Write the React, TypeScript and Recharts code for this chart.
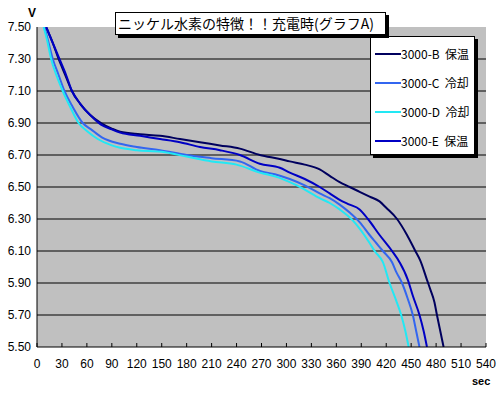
import { CartesianGrid, Legend, Line, LineChart, XAxis, YAxis } from 'recharts';

// voltage readings per series: [sec, volts]
const seriesB: [number, number][] = [
  [11, 7.5], [19, 7.4], [26, 7.3], [34, 7.2], [42, 7.1], [52, 7.02], [64, 6.95], [77, 6.9],
  [90, 6.865], [100, 6.845], [124, 6.83], [148, 6.82], [172, 6.8], [196, 6.78], [220, 6.76],
  [244, 6.74], [268, 6.7], [292, 6.675], [304, 6.66], [322, 6.64], [340, 6.61], [352, 6.57],
  [364, 6.53], [376, 6.5], [388, 6.47], [400, 6.44], [412, 6.41], [420, 6.37], [433, 6.3],
  [445, 6.2], [455, 6.1], [461, 6.04], [469, 5.92], [473, 5.86], [478, 5.78], [481, 5.7],
  [485, 5.6], [489, 5.5],
];
const seriesC: [number, number][] = [
  [9, 7.5], [14, 7.4], [19, 7.3], [26, 7.2], [33, 7.1], [43, 7.0], [55, 6.9], [65, 6.86],
  [78, 6.81], [100, 6.77], [120, 6.75], [148, 6.73], [180, 6.7], [210, 6.68], [244, 6.66],
  [268, 6.6], [286, 6.58], [304, 6.55], [322, 6.51], [340, 6.46], [352, 6.43], [364, 6.39],
  [376, 6.34], [388, 6.28], [400, 6.2], [408, 6.15], [416, 6.1], [427, 6.03], [432, 5.97],
  [439, 5.9], [446, 5.8], [452, 5.7], [456, 5.6], [460, 5.5],
];
const seriesD: [number, number][] = [
  [8, 7.5], [12, 7.42], [17, 7.3], [24, 7.19], [31, 7.1], [40, 7.0], [50, 6.9], [60, 6.85],
  [73, 6.8], [90, 6.76], [100, 6.745], [120, 6.73], [150, 6.72], [180, 6.69], [210, 6.66],
  [240, 6.64], [268, 6.59], [290, 6.56], [304, 6.53], [320, 6.49], [340, 6.43], [352, 6.4],
  [364, 6.36], [380, 6.29], [388, 6.24], [400, 6.15], [406, 6.1], [416, 6.03], [424, 5.9],
  [432, 5.79], [438, 5.7], [443, 5.6], [447, 5.5],
];
const seriesE: [number, number][] = [
  [11, 7.5], [19, 7.4], [27, 7.3], [35, 7.2], [42, 7.1], [52, 7.02], [64, 6.95], [77, 6.89],
  [90, 6.86], [100, 6.84], [124, 6.82], [148, 6.8], [172, 6.78], [196, 6.75], [220, 6.73],
  [244, 6.7], [268, 6.645], [292, 6.62], [304, 6.59], [322, 6.55], [340, 6.5], [352, 6.46],
  [364, 6.42], [376, 6.39], [388, 6.36], [398, 6.3], [412, 6.2], [427, 6.1], [436, 6.03],
  [446, 5.92], [452, 5.82], [460, 5.7], [465, 5.6], [469, 5.5],
];

const seriesNames = ['3000-B 保温', '3000-C 冷却', '3000-D 冷却', '3000-E 保温'];
const seriesColors = ['#00005e', '#3366f0', '#22e8f4', '#0000c4'];
const xTicks = [0, 30, 60, 90, 120, 150, 180, 210, 240, 270, 300, 330, 360, 390, 420, 450, 480, 510, 540];
const yTicks = [5.5, 5.7, 5.9, 6.1, 6.3, 6.5, 6.7, 6.9, 7.1, 7.3, 7.5];
const title = 'ニッケル水素の特徴！！充電時(グラフA)';

const toRows = (s: [number, number][]) => s.map(([t, v]) => ({ t, v }));
const allSeries = [seriesB, seriesC, seriesD, seriesE].map(toRows);

const font = '"Liberation Sans", Arial, sans-serif';

function XTick({ x, y, payload }: any) {
  return (
    <g>
      <line x1={x} x2={x} y1={y - 4} y2={y} stroke="#000" />
      <text x={x} y={y + 21} textAnchor="middle" fontSize={12} fontFamily={font} fill="#000">
        {payload.value}
      </text>
    </g>
  );
}

function LegendBox({ payload }: any) {
  return (
    <div
      style={{
        width: 105,
        height: 119,
        background: '#fff',
        border: '1px solid #000',
        boxShadow: '3px 3px 0 #000',
        padding: '2px 0 0 4px',
        boxSizing: 'border-box',
      }}
    >
      {(payload || []).map((p: any) => (
        <div key={p.value} style={{ display: 'flex', alignItems: 'center', height: 29 }}>
          <span style={{ display: 'inline-block', width: 26, height: 2, background: p.color }} />
          <span style={{ fontSize: 12, fontFamily: '"Noto Sans CJK JP", sans-serif', color: '#000', whiteSpace: 'pre' }}>
            {p.value.replace(' ', '  ')}
          </span>
        </div>
      ))}
    </div>
  );
}

export default function App() {
  return (
    <div style={{ position: 'absolute', left: 0, top: 0, width: 502, height: 394, background: '#fff' }}>
      <LineChart width={502} height={394} margin={{ top: 27, right: 16, bottom: 17, left: 0 }}>
        <CartesianGrid
          vertical={false}
          stroke="#000"
          fill="#c0c0c0"
          fillOpacity={1}
          horizontalValues={yTicks.slice(1, -1)}
        />
        <XAxis
          type="number"
          dataKey="t"
          domain={[0, 540]}
          ticks={xTicks}
          interval={0}
          height={30}
          allowDataOverflow
          axisLine={{ stroke: '#000' }}
          tickLine={false}
          tickSize={0}
          tickMargin={0}
          tick={<XTick />}
        />
        <YAxis
          type="number"
          domain={[5.5, 7.5]}
          ticks={yTicks}
          interval={0}
          width={37}
          allowDataOverflow
          axisLine={{ stroke: '#000' }}
          tickLine={false}
          tickSize={0}
          tickMargin={6}
          tickFormatter={(v: number) => v.toFixed(2)}
          tick={{ fontSize: 12, fontFamily: font, fill: '#000' }}
        />
        {allSeries.map((rows, i) => (
          <Line
            key={seriesNames[i]}
            data={rows}
            dataKey="v"
            name={seriesNames[i]}
            type="monotone"
            stroke={seriesColors[i]}
            strokeWidth={2}
            dot={false}
            isAnimationActive={false}
          />
        ))}
        <Legend
          layout="vertical"
          align="center"
          verticalAlign="middle"
          content={<LegendBox />}
          wrapperStyle={{ position: 'absolute', left: 370, top: 36, width: 'auto', height: 'auto' }}
        />
      </LineChart>
      <div
        style={{
          position: 'absolute',
          left: 115,
          top: 12,
          width: 271,
          height: 23,
          background: '#fff',
          border: '1px solid #000',
          boxShadow: '3px 3px 0 #000',
          boxSizing: 'border-box',
          fontSize: 14,
          lineHeight: '21px',
          fontFamily: '"Noto Sans CJK JP", sans-serif',
          paddingLeft: 2,
          whiteSpace: 'nowrap',
        }}
      >
        {title}
      </div>
      <div style={{ position: 'absolute', left: 28, top: 6, fontSize: 12, fontWeight: 'bold', fontFamily: font }}>V</div>
      <div style={{ position: 'absolute', left: 472, top: 375, fontSize: 11, fontWeight: 'bold', fontFamily: font }}>sec</div>
    </div>
  );
}
